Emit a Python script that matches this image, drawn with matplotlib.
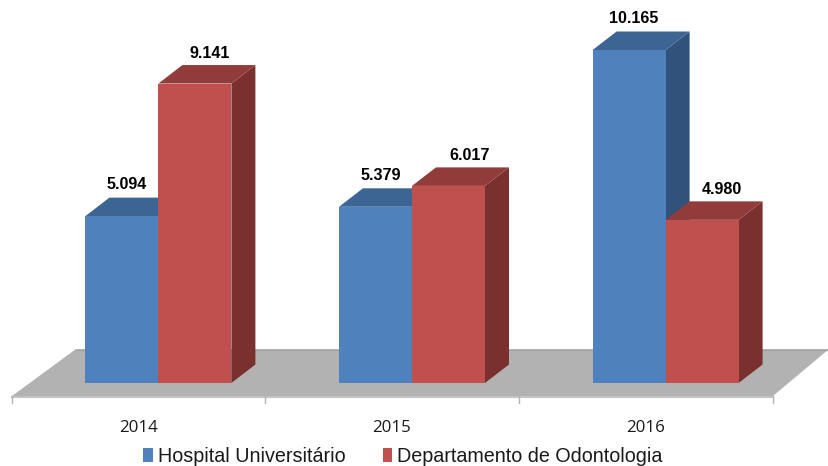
import matplotlib
matplotlib.use("Agg")
import matplotlib.pyplot as plt
from matplotlib.patches import Polygon, Patch
import numpy as np

years = ["2014", "2015", "2016"]
hospital = [5094, 5379, 10165]
odonto = [9141, 6017, 4980]
series_names = ["Hospital Universitário", "Departamento de Odontologia"]
value_labels_h = ["5.094", "5.379", "10.165"]
value_labels_o = ["9.141", "6.017", "4.980"]

W, H = 829, 466
fig = plt.figure(figsize=(W / 100, H / 100), dpi=100, facecolor="white")
ax = fig.add_axes([0, 0, 1, 1])

# scales: px per category and per value unit
PXC = 253.6
PXV = 333 / 10165
X0, Y0 = 158.4, 383
ax.set_xlim((0 - X0) / PXC, (W - X0) / PXC)
ax.set_ylim((Y0 - H) / PXV, Y0 / PXV)
ax.axis("off")

bw = 73 / PXC
ddx, ddy = 24 / PXC, 18.5 / PXV


def xc(px):
    return (px - X0) / PXC


def yv(py):
    return (Y0 - py) / PXV


# floor
ax.add_patch(Polygon([(xc(12), yv(396)), (xc(773), yv(396)), (xc(829), yv(349)), (xc(76), yv(349))],
                     closed=True, fc="#b2b2b2", ec="none", zorder=1))
ax.plot([xc(12), xc(773)], [yv(396.5)] * 2, color="#c4c4c4", lw=1.5, zorder=2)
ax.plot([xc(76), xc(829)], [yv(349.5)] * 2, color="#a6a6a6", lw=1, zorder=2)
for px in [12, 265.5, 519, 773]:
    ax.plot([xc(px)] * 2, [yv(396), yv(403)], color="#b4b4b4", lw=1, zorder=2)


def bar3d(x, v, front, top, side, z):
    ax.bar(x, v, width=bw, align="edge", color=front, lw=0, zorder=z + 0.2)
    ax.add_patch(Polygon([(x, v), (x + bw, v), (x + bw + ddx, v + ddy), (x + ddx, v + ddy)],
                         fc=top, ec="none", zorder=z + 0.1))
    ax.add_patch(Polygon([(x + bw, 0), (x + bw + ddx, ddy), (x + bw + ddx, v + ddy), (x + bw, v)],
                         fc=side, ec="none", zorder=z))


label_font = dict(family="Liberation Sans", weight="bold", fontsize=11.6, color="#000000",
                  ha="center", va="center", zorder=10)
# horizontal label offsets from the bar's left edge, in px
off_h = [41, 42, 41]
off_o = [51, 58, 56]
for i in range(len(years)):
    bar3d(i - bw, hospital[i], "#4f81bd", "#3d6594", "#31527a", 3)
    bar3d(i, odonto[i], "#c0504d", "#913c3a", "#7a302f", 4)
    ax.text(i - bw + off_h[i] / PXC, hospital[i] + 31.5 / PXV, value_labels_h[i], **label_font)
    ax.text(i + off_o[i] / PXC, odonto[i] + 30.5 / PXV, value_labels_o[i], **label_font)
    ax.text(i - 20 / PXC, yv(428), years[i], family="Open Sans", fontsize=12.2, color="#1a1a1a",
            ha="center", va="center")

handles = [Patch(fc="#4f81bd", ec="none"), Patch(fc="#c0504d", ec="none")]
leg = ax.legend(handles, series_names, loc="center", bbox_to_anchor=(403 / W, 1 - 456 / H),
                ncol=2, frameon=False, handlelength=0.47, handleheight=0.72, handletextpad=0.26,
                columnspacing=1.9, borderpad=0, borderaxespad=0,
                prop=dict(family="Liberation Sans", size=14.2))
for t in leg.get_texts():
    t.set_color("#1a1a1a")

fig.savefig("out.png", dpi=100)
